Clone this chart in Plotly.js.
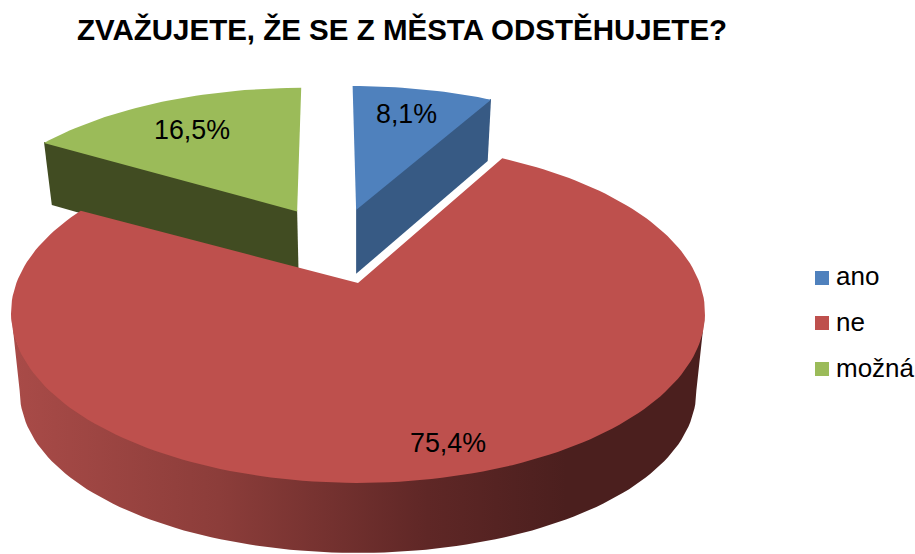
<!DOCTYPE html>
<html><head><meta charset="utf-8">
<script src="https://cdn.plot.ly/plotly-3.0.1.min.js"></script>
<style>html,body{margin:0;padding:0;background:#fff}</style></head>
<body><div id="chart" style="width:915px;height:554px"></div>
<script>
const categories = ["ano", "ne", "možná"];
const shares = [8.1, 75.4, 16.5];
const topColors = ["#4f81bd", "#be504d", "#9bbb59"];
const wallColors = ["#375a84", "#be504d", "#414c22"];
const titleText = "ZVAŽUJETE, ŽE SE Z MĚSTA ODSTĚHUJETE?";

// Perspective view of a tilted cylinder: pie plane (u,v) -> picture pixels
const cx = 358, cy = 283, A = 341.6, B = 164.7, K = 0.176, D = 65.4, SX = 0.975, SY = 1.023, BULGE = 12;
// per slice: arc centre u, arc centre v, radius, apex u, apex v
const offsets = [[-0.02, 0.48, 1.035, -0.006, 0.48], [0, 0, 1, 0, 0], [-0.21, 0.485, 1.012, -0.193, 0.47]];
const endSkew = [0, -2.2, 0];
const labelPos = [[406, 114], [448, 443], [192, 130]];
const keyX = 822, keyY = [278, 323, 369], keyTextX = 836, keyTextY = [278, 324, 370];
const FONT = "Liberation Sans, Arial, sans-serif";

function projTop(u, v) { const w = 1 + K * v; return [cx + A * u / w, cy - B * v / w]; }
function projBot(u, v) { const w = 1 + K * v; return [cx + SX * A * u / w, cy + D - SY * B * v / w]; }
function uv(i, deg) {
  const t = deg * Math.PI / 180, o = offsets[i];
  return [o[0] + o[2] * Math.sin(t), o[1] + o[2] * Math.cos(t)];
}
let start = 0;
const angles = shares.map((s, i) => { const a = [start, start + s * 3.6 + endSkew[i]]; start += s * 3.6; return a; });

function arcDegs(a) { const n = Math.ceil((a[1] - a[0]) / 1.5), out = []; for (let k = 0; k <= n; k++) out.push(a[0] + (a[1] - a[0]) * k / n); return out; }
function xyOf(pts) { return { x: pts.map(p => p[0]), y: pts.map(p => p[1]) }; }
function tuck(p, n) { return [p[0], p[1] - n]; }

const base = { type: "scatter", mode: "lines", line: { width: 0 }, fill: "toself", hoverinfo: "skip", showlegend: false };
const traces = [];

// radial side walls of the pulled slices
function radialWall(i, deg) {
  const o = offsets[i], e = uv(i, deg);
  const pts = [tuck(projTop(o[3], o[4]), 1.5), tuck(projTop(e[0], e[1]), 1), projBot(e[0], e[1]), projBot(o[3], o[4])];
  pts.push(pts[0]);
  traces.push(Object.assign({}, base, xyOf(pts), { fillcolor: wallColors[i] }));
}
radialWall(0, angles[0][1]);
radialWall(2, angles[2][0]);

// outer wall of the big slice, between the two silhouette tangents, shaded left to right
{
  const ext = Math.acos(-K) * 180 / Math.PI;
  const degs = arcDegs([ext, 360 - ext]);
  const top = degs.map(d => { const p = uv(1, d); return tuck(projTop(p[0], p[1]), 2); });
  const bot = degs.map(d => {
    const p = uv(1, d), q = projBot(p[0], p[1]), s = Math.sin(d * Math.PI / 180);
    return [q[0], q[1] + BULGE * s * s];
  }).reverse();
  const pts = top.concat(bot); pts.push(pts[0]);
  traces.push(Object.assign({}, base, xyOf(pts), {
    fillcolor: "#7a3331",
    fillgradient: { type: "horizontal", colorscale: [[0, "#a94b48"], [0.3, "#8c3d3a"], [0.6, "#5f2726"], [0.8, "#4b1f1e"], [1, "#4b1f1e"]] }
  }));
}

// top faces
shares.forEach((s, i) => {
  const o = offsets[i];
  const pts = [projTop(o[3], o[4])];
  arcDegs(angles[i]).forEach(d => { const p = uv(i, d); pts.push(projTop(p[0], p[1])); });
  pts.push(pts[0]);
  traces.push(Object.assign({}, base, xyOf(pts), { fillcolor: topColors[i], name: categories[i] }));
});

// legend key: squares and their names
traces.push({
  type: "scatter", mode: "markers", x: categories.map(() => keyX), y: keyY,
  marker: { symbol: "square", size: 14, color: topColors }, hoverinfo: "skip", showlegend: false, cliponaxis: false
});
traces.push({
  type: "scatter", mode: "text", x: categories.map(() => keyTextX), y: keyTextY, text: categories,
  textposition: "middle right", textfont: { family: FONT, size: 26, color: "#000" },
  hoverinfo: "skip", showlegend: false, cliponaxis: false
});

const annotations = shares.map((s, i) => ({
  x: labelPos[i][0], y: labelPos[i][1], xref: "x", yref: "y", showarrow: false,
  text: s.toFixed(1).replace(".", ",") + "%", font: { family: FONT, size: 26.8, color: "#000" },
  xanchor: "center", yanchor: "middle"
}));

const layout = {
  width: 915, height: 554, paper_bgcolor: "#fff", plot_bgcolor: "#fff", showlegend: false,
  margin: { l: 0, r: 0, t: 0, b: 0 },
  xaxis: { range: [0, 915], visible: false, fixedrange: true },
  yaxis: { range: [554, 0], visible: false, fixedrange: true },
  title: { text: "<b>" + titleText + "</b>", x: 402 / 915, xanchor: "center", xref: "paper", y: 1 - 30 / 554, yanchor: "middle", yref: "container",
    font: { family: FONT, size: 29.5, color: "#000" } },
  annotations: annotations
};
Plotly.newPlot("chart", traces, layout, { displayModeBar: false, staticPlot: true });
</script></body></html>
